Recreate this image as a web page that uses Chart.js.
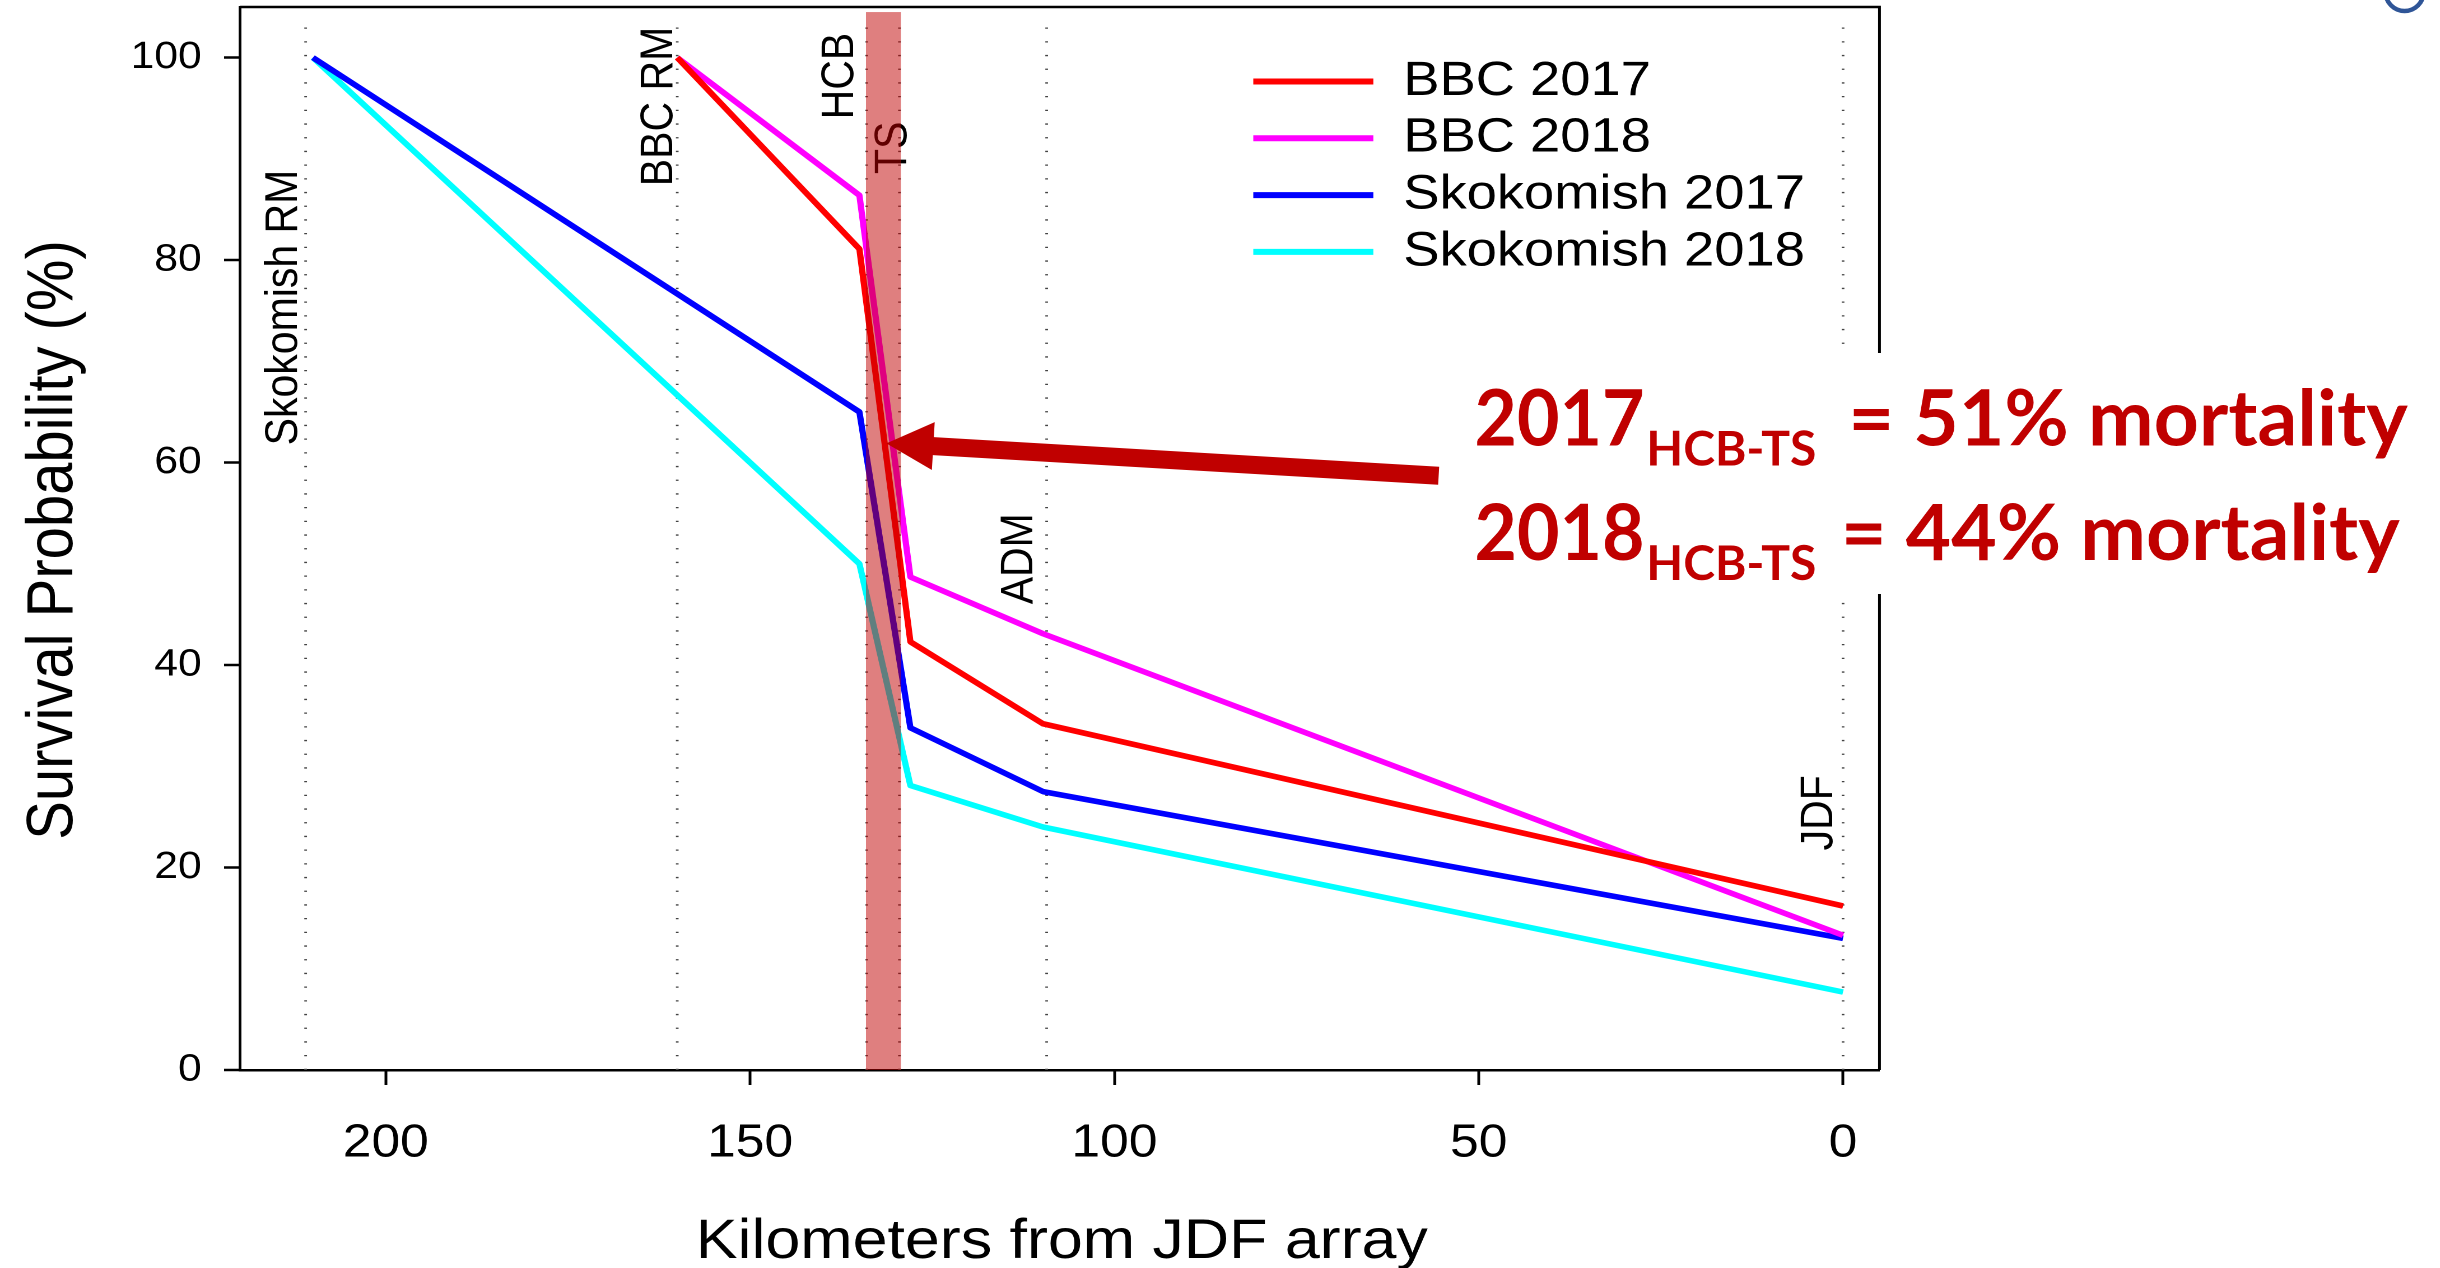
<!DOCTYPE html>
<html>
<head>
<meta charset="utf-8">
<title>Survival probability by distance</title>
<script src="https://cdn.jsdelivr.net/npm/chart.js@4.4.0/dist/chart.umd.min.js"></script>
<style>
  html, body { margin: 0; background: #fff; overflow: hidden; }
  #wrap { position: relative; height: 1268px; transform-origin: 0 0; }
</style>
</head>
<body>
<div id="wrap"><canvas id="myChart"></canvas></div>
<script>
// distances (km from the JDF array) where each group was detected
const bbcKm = [160, 135, 128, 109.8, 0];
const skoKm = [210, 135, 128, 109.8, 0];

// survival probability (%) at each detection site
const bbc2017 = [100, 81.1, 42.3, 34.2, 16.2];
const bbc2018 = [100, 86.4, 48.7, 43.1, 13.3];
const sko2017 = [100, 65.0, 33.8, 27.5, 13.0];
const sko2018 = [100, 50.0, 28.1, 24.0, 7.7];

const seriesNames = ['BBC 2017', 'BBC 2018', 'Skokomish 2017', 'Skokomish 2018'];
const seriesColors = ['#ff0000', '#ff00ff', '#0000ff', '#00ffff'];

const xTicks = [0, 50, 100, 150, 200];
const yTicks = [0, 20, 40, 60, 80, 100];

// receiver sites, drawn as dotted verticals
const siteNames = ['Skokomish RM', 'BBC RM', 'HCB', 'TS', 'ADM', 'JDF'];
const siteKm = [211, 160, 134, 129.5, 109.3, 0];
// where each site name starts (km, %)
const siteLabelKm = [212.2, 160.7, 135.9, 128.6, 111.3, 1.5];
const siteLabelY = [61.7, 87.3, 93.9, 88.5, 46.0, 21.7];

// Hood Canal Bridge -> Thorndyke stretch
const tsBand = [134.1, 129.3];

const mortalityYears = ['2017', '2018'];
const mortalityPct = ['51%', '44%'];

// the plot is stretched sideways on the slide
const S = 1.12;
const W = 2440 / S;
const FONT = '"Liberation Sans", Arial, sans-serif';
const DARK_RED = '#C00000';

document.getElementById('wrap').style.width = W + 'px';
document.getElementById('wrap').style.transform = 'scaleX(' + S + ')';

function series(km, vals) {
  return km.map((k, i) => ({ x: k, y: vals[i] }));
}

// fill text so its ink runs from x0 to x1
function inkText(ctx, str, x0, x1, base) {
  const m = ctx.measureText(str);
  const ink = m.actualBoundingBoxLeft + m.actualBoundingBoxRight;
  ctx.save();
  ctx.translate(x0, base);
  ctx.scale((x1 - x0) / ink, 1);
  ctx.fillText(str, m.actualBoundingBoxLeft, 0);
  ctx.restore();
}

const extras = {
  id: 'extras',
  beforeDatasetsDraw(chart) {
    const { ctx, chartArea: a, scales: { x, y } } = chart;
    ctx.save();
    ctx.strokeStyle = '#444';
    ctx.lineWidth = 2.4;
    ctx.setLineDash([1.3, 12.4]);
    siteKm.forEach(km => {
      const px = x.getPixelForValue(km);
      ctx.beginPath();
      ctx.moveTo(px, a.bottom);
      ctx.lineTo(px, a.top + 10);
      ctx.stroke();
    });
    ctx.setLineDash([]);

    ctx.fillStyle = '#000';
    ctx.font = '41px ' + FONT;
    ctx.textAlign = 'left';
    ctx.textBaseline = 'alphabetic';
    siteNames.forEach((name, i) => {
      ctx.save();
      ctx.translate(x.getPixelForValue(siteLabelKm[i]), y.getPixelForValue(siteLabelY[i]));
      ctx.rotate(-Math.PI / 2);
      ctx.fillText(name, 0, 0);
      ctx.restore();
    });
    ctx.restore();
  },
  afterDatasetsDraw(chart) {
    const { ctx, chartArea: a, scales: { x, y } } = chart;
    ctx.save();
    // shaded TS stretch sits over the lines
    const bx0 = x.getPixelForValue(tsBand[0]);
    const bx1 = x.getPixelForValue(tsBand[1]);
    const btop = y.getPixelForValue(104.5);
    ctx.fillStyle = 'rgba(192,0,0,0.5)';
    ctx.fillRect(bx0, btop, bx1 - bx0, a.bottom - btop);

    // top and right of the box
    ctx.strokeStyle = '#000';
    ctx.lineWidth = 2.5;
    ctx.beginPath();
    ctx.moveTo(a.left, a.top);
    ctx.lineTo(a.right, a.top);
    ctx.lineTo(a.right, a.bottom);
    ctx.stroke();
    ctx.restore();
  },
  afterDraw(chart) {
    const { ctx, scales: { x, y } } = chart;

    // legend
    ctx.save();
    ctx.font = '48.5px ' + FONT;
    ctx.textAlign = 'left';
    ctx.textBaseline = 'middle';
    ctx.lineWidth = 6;
    seriesNames.forEach((name, i) => {
      const yy = 81.5 + i * 56.8;
      ctx.strokeStyle = seriesColors[i];
      ctx.beginPath();
      ctx.moveTo(1253 / S, yy);
      ctx.lineTo(1373 / S, yy);
      ctx.stroke();
      ctx.fillStyle = '#000';
      ctx.fillText(name, 1252.6, yy);
    });

    // axis titles
    ctx.textAlign = 'center';
    ctx.textBaseline = 'alphabetic';
    ctx.font = '56px ' + FONT;
    ctx.fillText('Kilometers from JDF array', 1061.5 / S, 1258);
    ctx.save();
    ctx.font = '58px ' + FONT;
    ctx.translate(72.5 / S, 540);
    ctx.rotate(-Math.PI / 2);
    ctx.fillText('Survival Probability (%)', 0, 0);
    ctx.restore();
    ctx.restore();

    // slide annotations, not stretched
    ctx.save();
    ctx.scale(1 / S, 1);

    // arrow pointing at the TS drop
    const tip = [x.getPixelForValue(131.3) * S, y.getPixelForValue(61.9)];
    const tail = [x.getPixelForValue(55.5) * S, y.getPixelForValue(58.7)];
    const dx = tip[0] - tail[0], dy = tip[1] - tail[1];
    const len = Math.hypot(dx, dy);
    const u = [dx / len, dy / len], n = [-u[1], u[0]];
    const base = [tip[0] - u[0] * 47, tip[1] - u[1] * 47];
    const p = (pt, k) => [pt[0] + n[0] * k, pt[1] + n[1] * k];
    const poly = [p(tail, 9), p(base, 9), p(base, 24), tip, p(base, -24), p(base, -9), p(tail, -9)];
    ctx.fillStyle = DARK_RED;
    ctx.beginPath();
    poly.forEach((pt, i) => (i ? ctx.lineTo(pt[0], pt[1]) : ctx.moveTo(pt[0], pt[1])));
    ctx.closePath();
    ctx.fill();

    // text panel
    ctx.fillStyle = '#fff';
    ctx.fillRect(1452, 353, 988, 241);
    ctx.fillStyle = DARK_RED;
    ctx.textAlign = 'left';
    ctx.textBaseline = 'alphabetic';
    const rows = [
      { base: 445.7, eq0: 1853, eq1: 2408 },
      { base: 560, eq0: 1845.6, eq1: 2400 }
    ];
    rows.forEach((r, i) => {
      ctx.font = 'bold 78px Lato';
      inkText(ctx, mortalityYears[i], 1476, 1642, r.base);
      inkText(ctx, '= ' + mortalityPct[i] + ' mortality', r.eq0, r.eq1, r.base);
      ctx.font = 'bold 48px Lato';
      inkText(ctx, 'HCB-TS', 1649, 1814.5, r.base + 20);
    });

    // corner of the slide logo
    ctx.strokeStyle = '#2F5597';
    ctx.lineWidth = 4.5;
    ctx.beginPath();
    ctx.arc(2404, -8, 19, 0, Math.PI);
    ctx.stroke();
    ctx.restore();
  }
};

const tickFont = size => ({ family: FONT, size: size });

new Chart(document.getElementById('myChart'), {
  type: 'line',
  data: {
    datasets: [
      { label: seriesNames[0], data: series(bbcKm, bbc2017) },
      { label: seriesNames[1], data: series(bbcKm, bbc2018) },
      { label: seriesNames[2], data: series(skoKm, sko2017) },
      { label: seriesNames[3], data: series(skoKm, sko2018) }
    ].map((d, i) => Object.assign(d, {
      borderColor: seriesColors[i],
      borderWidth: 5.6,
      borderJoinStyle: 'round',
      pointRadius: 0,
      tension: 0,
      fill: false
    }))
  },
  options: {
    responsive: true,
    maintainAspectRatio: false,
    animation: false,
    devicePixelRatio: 2,
    layout: { padding: { left: 0, top: 7, right: W - 1879 / S, bottom: 0 } },
    plugins: {
      legend: { display: false },
      tooltip: { enabled: false }
    },
    scales: {
      x: {
        type: 'linear',
        reverse: true,
        min: -5,
        max: 220,
        afterBuildTicks: s => { s.ticks = xTicks.map(v => ({ value: v })); },
        afterFit: s => {
          s.height = 1268 - 1070;
          s.paddingLeft = s.paddingRight = s.paddingTop = s.paddingBottom = 0;
        },
        grid: { drawOnChartArea: false, tickLength: 15, tickWidth: 2.5, tickColor: '#000' },
        border: { display: true, color: '#000', width: 2.5 },
        ticks: { padding: 31, color: '#000', font: tickFont(46), maxRotation: 0, autoSkip: false }
      },
      y: {
        min: 0,
        max: 105,
        afterBuildTicks: s => { s.ticks = yTicks.map(v => ({ value: v })); },
        afterFit: s => {
          s.width = 240 / S;
          s.paddingLeft = s.paddingRight = s.paddingTop = s.paddingBottom = 0;
        },
        grid: { drawOnChartArea: false, tickLength: 16 / S, tickWidth: 2.5, tickColor: '#000' },
        border: { display: true, color: '#000', width: 2.5 },
        ticks: { padding: 20, color: '#000', font: tickFont(38) }
      }
    }
  },
  plugins: [extras]
});
</script>
</body>
</html>
